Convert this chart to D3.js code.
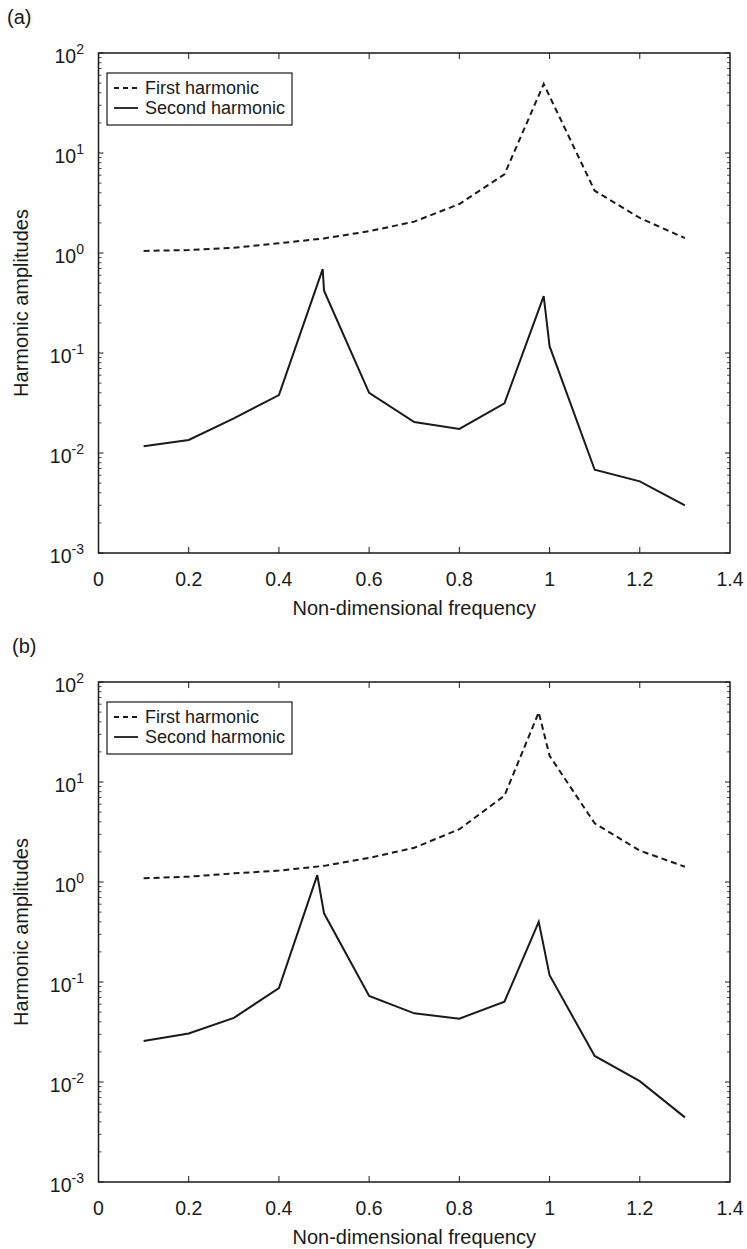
<!DOCTYPE html>
<html>
<head>
<meta charset="utf-8">
<script src="https://cdn.jsdelivr.net/npm/d3@7"></script>
<style>
  body { margin: 0; background: #fff; }
  svg { display: block; font-family: "Liberation Sans", Arial, sans-serif; }
</style>
</head>
<body>
<svg id="chart" width="747" height="1249"></svg>
<script>
// panel (a) values
var freqA1 = [0.1, 0.2, 0.3, 0.4, 0.5, 0.6, 0.7, 0.8, 0.9, 0.987, 1.1, 1.2, 1.3];
var ampA1 = [1.05, 1.07, 1.13, 1.25, 1.40, 1.65, 2.06, 3.09, 6.12, 49, 4.2, 2.24, 1.41];
var freqA2 = [0.1, 0.2, 0.3, 0.4, 0.497, 0.5, 0.6, 0.7, 0.8, 0.9, 0.987, 1.0, 1.1, 1.2, 1.3];
var ampA2 = [0.0117, 0.0135, 0.0222, 0.038, 0.69, 0.42, 0.040, 0.0204, 0.0174, 0.0314, 0.37, 0.117, 0.0068, 0.0052, 0.0030];

// panel (b) values
var freqB1 = [0.1, 0.2, 0.3, 0.4, 0.5, 0.6, 0.7, 0.8, 0.9, 0.976, 1.0, 1.1, 1.2, 1.3];
var ampB1 = [1.09, 1.13, 1.22, 1.30, 1.45, 1.74, 2.2, 3.37, 7.3, 49.8, 18.3, 3.86, 2.06, 1.42];
var freqB2 = [0.1, 0.2, 0.3, 0.4, 0.485, 0.5, 0.6, 0.7, 0.8, 0.9, 0.976, 1.0, 1.1, 1.2, 1.3];
var ampB2 = [0.0257, 0.0306, 0.0437, 0.0871, 1.17, 0.486, 0.0724, 0.0486, 0.043, 0.0636, 0.40, 0.117, 0.0182, 0.0102, 0.00443];

var xTicks = [0, 0.2, 0.4, 0.6, 0.8, 1, 1.2, 1.4];
var yExps = [-3, -2, -1, 0, 1, 2];
var seriesNames = ["First harmonic", "Second harmonic"];

var svg = d3.select("#chart");
var left = 98.5, right = 730, plotH = 500;
var ink = "#1a1a1a";

function zip(xs, ys) {
    return xs.map((x, i) => ({f: x, a: ys[i]}));
}

function drawPanel(top, label, labelX, s1, s2) {
    var x = d3.scaleLinear().domain([0, 1.4]).range([left, right]);
    var y = d3.scaleLog().domain([1e-3, 1e2]).range([top + plotH, top]);
    var g = svg.append("g");

    // panel letter
    g.append("text")
        .attr("x", labelX).attr("y", top - 29)
        .attr("font-size", 20).attr("fill", ink)
        .text(label);

    // minor ticks on log axis (2..9 each decade), both sides, pointing in
    var minors = [];
    yExps.slice(0, -1).forEach(e => {
        for (var k = 2; k <= 9; k++) minors.push(k * Math.pow(10, e));
    });
    minors.forEach(v => {
        g.append("line").attr("x1", left).attr("x2", left + 3)
            .attr("y1", y(v)).attr("y2", y(v))
            .attr("stroke", ink).attr("stroke-width", 0.8);
        g.append("line").attr("x1", right).attr("x2", right - 3)
            .attr("y1", y(v)).attr("y2", y(v))
            .attr("stroke", ink).attr("stroke-width", 0.8);
    });

    // major y ticks + labels
    yExps.forEach(e => {
        var v = Math.pow(10, e);
        g.append("line").attr("x1", left).attr("x2", left + 5)
            .attr("y1", y(v)).attr("y2", y(v))
            .attr("stroke", ink).attr("stroke-width", 1);
        g.append("line").attr("x1", right).attr("x2", right - 5)
            .attr("y1", y(v)).attr("y2", y(v))
            .attr("stroke", ink).attr("stroke-width", 1);
        var t = g.append("text")
            .attr("x", 84).attr("y", y(v) + 10)
            .attr("text-anchor", "end")
            .attr("font-size", 19.5).attr("fill", ink);
        t.append("tspan").text("10");
        t.append("tspan").attr("dy", -9).attr("font-size", 14).text(String(e));
    });

    // x ticks (bottom and top) + labels
    xTicks.forEach(v => {
        if (v > 0 && v < 1.4) {
            g.append("line").attr("x1", x(v)).attr("x2", x(v))
                .attr("y1", top + plotH).attr("y2", top + plotH - 6)
                .attr("stroke", ink).attr("stroke-width", 1);
            g.append("line").attr("x1", x(v)).attr("x2", x(v))
                .attr("y1", top).attr("y2", top + 6)
                .attr("stroke", ink).attr("stroke-width", 1);
        }
        g.append("text")
            .attr("x", x(v)).attr("y", top + plotH + 33)
            .attr("text-anchor", "middle")
            .attr("font-size", 19.5).attr("fill", ink)
            .text(d3.format("")(v));
    });

    // frame
    g.append("rect")
        .attr("x", left).attr("y", top)
        .attr("width", right - left).attr("height", plotH)
        .attr("fill", "none").attr("stroke", ink).attr("stroke-width", 1.5);

    // axis titles
    g.append("text")
        .attr("x", (left + right) / 2).attr("y", top + plotH + 62)
        .attr("text-anchor", "middle")
        .attr("font-size", 20).attr("fill", ink)
        .text("Non-dimensional frequency");
    g.append("text")
        .attr("transform", `translate(28,${top + plotH / 2}) rotate(-90)`)
        .attr("text-anchor", "middle")
        .attr("font-size", 20).attr("fill", ink)
        .text("Harmonic amplitudes");

    var line = d3.line().x(d => x(d.f)).y(d => y(d.a));

    g.append("path")
        .attr("d", line(s1))
        .attr("fill", "none").attr("stroke", ink)
        .attr("stroke-width", 2).attr("stroke-dasharray", "6,4");
    g.append("path")
        .attr("d", line(s2))
        .attr("fill", "none").attr("stroke", ink)
        .attr("stroke-width", 2).attr("stroke-linejoin", "miter");

    // legend
    var lg = g.append("g").attr("transform", `translate(${left + 8.5},${top + 20})`);
    lg.append("rect")
        .attr("width", 185).attr("height", 52)
        .attr("fill", "#fff").attr("stroke", ink).attr("stroke-width", 1.2);
    seriesNames.forEach((name, i) => {
        var ly = 15 + i * 20;
        lg.append("line")
            .attr("x1", 7).attr("x2", 31).attr("y1", ly).attr("y2", ly)
            .attr("stroke", ink).attr("stroke-width", 1.8)
            .attr("stroke-dasharray", i === 0 ? "5,4" : null);
        lg.append("text")
            .attr("x", 38).attr("y", ly + 6)
            .attr("font-size", 18).attr("fill", ink)
            .text(name);
    });
}

drawPanel(53, "(a)", 7, zip(freqA1, ampA1), zip(freqA2, ampA2));
drawPanel(682, "(b)", 12, zip(freqB1, ampB1), zip(freqB2, ampB2));
</script>
</body>
</html>
